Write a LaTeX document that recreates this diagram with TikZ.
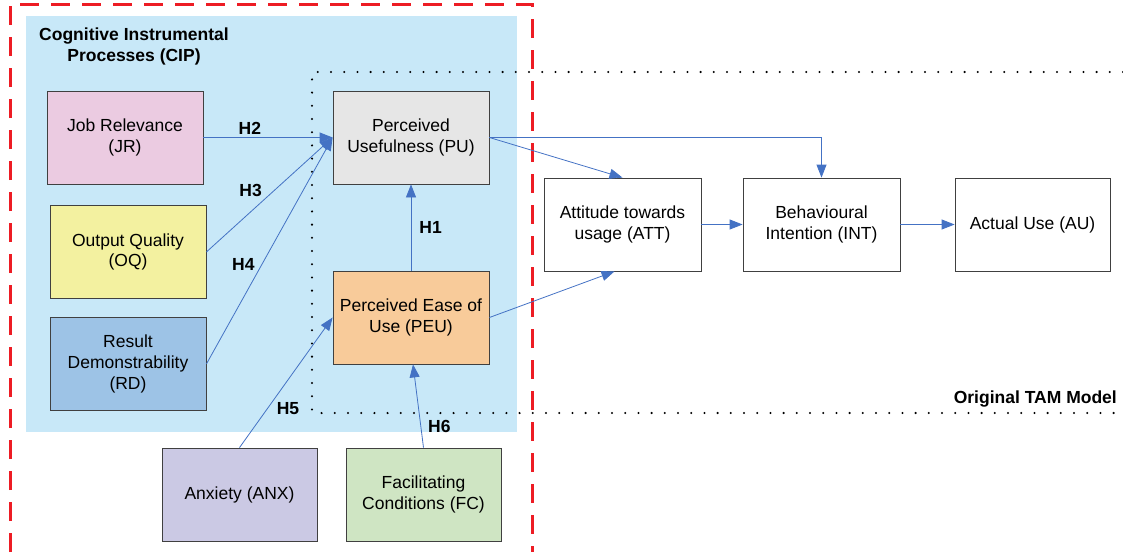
\documentclass[tikz,border=0pt]{standalone}
\usepackage{fontspec}
\setmainfont{Liberation Sans}
\usetikzlibrary{arrows.meta,positioning}
\definecolor{cipblue}{RGB}{200,232,248}
\definecolor{jrpink}{RGB}{235,203,225}
\definecolor{oqyellow}{RGB}{243,241,160}
\definecolor{rdblue}{RGB}{157,195,230}
\definecolor{pugray}{RGB}{230,230,230}
\definecolor{peuorange}{RGB}{248,203,154}
\definecolor{anxlilac}{RGB}{203,201,228}
\definecolor{fcgreen}{RGB}{207,229,195}
\definecolor{arrblue}{RGB}{68,114,196}
\definecolor{framered}{RGB}{237,28,36}
\tikzset{
  box/.style={draw=black!75, line width=0.8pt, rectangle, align=center, font=\fontsize{17.5}{20.7}\selectfont, minimum width=156pt, minimum height=93pt, inner sep=2pt, fill=white},
  arr/.style={-{Triangle[length=13pt,width=10pt]}, line width=0.8pt, draw=arrblue},
  hlbl/.style={font=\bfseries\fontsize{17.5}{21}\selectfont, inner sep=1pt},
  capn/.style={font=\bfseries\fontsize{17.5}{21}\selectfont, align=center, inner sep=0pt},
  tamframe/.style={line width=2.3pt, line cap=round, dash pattern=on 0pt off 13.2pt},
  cipframe/.style={draw=framered, line width=3pt, dash pattern=on 19pt off 12pt},
}
\begin{document}
\begin{tikzpicture}[x=1pt,y=-1pt]
\useasboundingbox (0,0) rectangle (1123,552);
% CIP background and frames
\fill[cipblue] (26,16) rectangle (517,432);
\node[capn] (cip) at (134,46.5) {Cognitive Instrumental\\Processes (CIP)};
\draw[tamframe] (1123,72) -- (312,72) -- (312,413) -- (1123,413);
\node[capn, anchor=east] (tam) at (1117,399) {Original TAM Model};
\draw[cipframe] (10,552) -- (10,4) -- (532,4) -- (532,552);
% constructs
\node[box, fill=jrpink] (jr) at (125,137.5) {Job Relevance\\(JR)};
\node[box, fill=oqyellow] (oq) at (128,252) {Output Quality\\(OQ)};
\node[box, fill=rdblue] (rd) at (128,364) {Result\\Demonstrability\\(RD)};
\node[box, fill=pugray] (pu) at (411,137.5) {Perceived\\Usefulness (PU)};
\node[box, fill=peuorange] (peu) at (411,317.5) {Perceived Ease of\\Use (PEU)};
\node[box, fill=anxlilac, minimum width=155pt] (anx) at (239.5,494.5) {Anxiety (ANX)};
\node[box, fill=fcgreen, minimum width=155pt] (fc) at (423.5,494.5) {Facilitating\\Conditions (FC)};
\node[box, minimum width=157pt] (att) at (622.5,224.5) {Attitude towards\\usage (ATT)};
\node[box, minimum width=157pt] (int) at (821.5,224.5) {Behavioural\\Intention (INT)};
\node[box, minimum width=155pt] (au) at (1032.5,224.5) {Actual Use (AU)};
% hypotheses
\draw[arr] (jr.east) -- node[hlbl, pos=0.36, above=2pt]{H2} (pu.west);
\draw[arr] (oq.east) -- node[hlbl, pos=0.35, above=14pt]{H3} (pu.west);
\draw[arr] (rd.east) -- node[hlbl, pos=0.44, left=6pt]{H4} (pu.west);
\draw[arr] (peu.north) -- node[hlbl, right=7pt]{H1} (pu.south);
\draw[arr] (anx.north) -- node[hlbl, pos=0.3, right=8pt]{H5} (peu.west);
\draw[arr] (fc.north) -- node[hlbl, pos=0.26, right=6pt]{H6} ([xshift=2pt]peu.south);
% original TAM paths
\draw[arr] (pu.east) -- (att.north);
\draw[arr] (pu.east) -| (int.north);
\draw[arr] (peu.east) -- ([xshift=-8pt]att.south);
\draw[arr] (att) -- (int);
\draw[arr] (int) -- (au);
\end{tikzpicture}
\end{document}
